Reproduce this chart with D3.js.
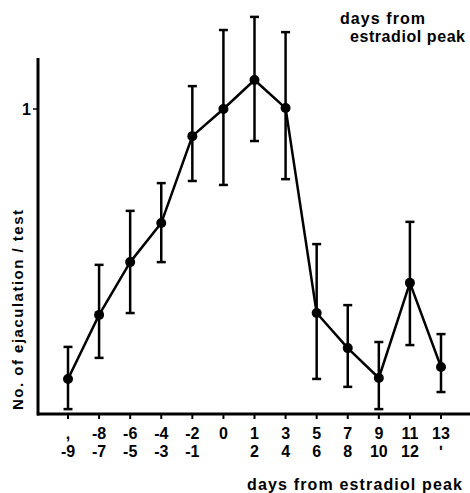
<!DOCTYPE html>
<html><head><meta charset="utf-8">
<script src="https://cdn.jsdelivr.net/npm/d3@7/dist/d3.min.js"></script>
<style>body{margin:0;background:#fff}svg{display:block}text{font-family:"Liberation Sans",Arial,sans-serif;font-weight:bold;fill:#000}</style>
</head><body>
<script>
const categories = ["-9","-8/-7","-6/-5","-4/-3","-2/-1","0","1/2","3/4","5/6","7/8","9/10","11/12","13"];
const topLabels = [",","-8","-6","-4","-2","0","1","3","5","7","9","11","13"];
const bottomLabels = ["-9","-7","-5","-3","-1","","2","4","6","8","10","12","\u02b9"];
const means = [0.115,0.325,0.498,0.626,0.911,1.0,1.095,1.003,0.331,0.216,0.118,0.430,0.154];
const upper = [0.220,0.489,0.666,0.757,1.075,1.259,1.302,1.252,0.557,0.357,0.236,0.630,0.262];
const lower = [0.016,0.184,0.331,0.498,0.764,0.751,0.895,0.770,0.115,0.089,0.016,0.226,0.072];
const yTicks = [1];

const W = 470, H = 493;
const svg = d3.select("body").append("svg").attr("width", W).attr("height", H);

const x = d3.scalePoint().domain(categories).range([68, 441]);
const y = d3.scaleLinear().domain([0, 1]).range([414, 109]);
const yTop = 1.167;

// axes
svg.append("line").attr("x1", 38).attr("x2", 38).attr("y1", y(yTop)).attr("y2", y(0) + 1.5)
  .attr("stroke", "#000").attr("stroke-width", 3);
svg.append("line").attr("x1", 37).attr("x2", 470).attr("y1", y(0)).attr("y2", y(0))
  .attr("stroke", "#000").attr("stroke-width", 3);

// y ticks
yTicks.forEach(t => {
  svg.append("line").attr("x1", 33).attr("x2", 38).attr("y1", y(t)).attr("y2", y(t))
    .attr("stroke", "#000").attr("stroke-width", 1.5);
  svg.append("text").attr("x", 31).attr("y", y(t) + 6).attr("text-anchor", "end")
    .attr("font-size", 16).text(t);
});

// x ticks and labels
categories.forEach((c, i) => {
  const cx = x(c);
  svg.append("line").attr("x1", cx).attr("x2", cx).attr("y1", y(0)).attr("y2", y(0) + 5)
    .attr("stroke", "#000").attr("stroke-width", 2);
  svg.append("text").attr("x", cx).attr("y", 439).attr("text-anchor", "middle")
    .attr("font-size", 16).text(topLabels[i]);
  svg.append("text").attr("x", cx).attr("y", 457).attr("text-anchor", "middle")
    .attr("font-size", 16).text(bottomLabels[i]);
});

// error bars
const cap = 4.5;
categories.forEach((c, i) => {
  const cx = x(c);
  svg.append("line").attr("x1", cx).attr("x2", cx).attr("y1", y(upper[i])).attr("y2", y(lower[i]))
    .attr("stroke", "#000").attr("stroke-width", 2.5);
  [upper[i], lower[i]].forEach(v => {
    svg.append("line").attr("x1", cx - cap).attr("x2", cx + cap).attr("y1", y(v)).attr("y2", y(v))
      .attr("stroke", "#000").attr("stroke-width", 2.5);
  });
});

// line
const line = d3.line().x((d, i) => x(categories[i])).y(d => y(d));
svg.append("path").datum(means).attr("d", line).attr("fill", "none")
  .attr("stroke", "#000").attr("stroke-width", 2.5).attr("stroke-linejoin", "round");

// points
svg.selectAll("circle.pt").data(means).enter().append("circle")
  .attr("cx", (d, i) => x(categories[i])).attr("cy", d => y(d)).attr("r", 5).attr("fill", "#000");

// y label
svg.append("text").attr("transform", "translate(23,310) rotate(-90)").attr("text-anchor", "middle")
  .attr("font-size", 15).attr("textLength", 200).attr("lengthAdjust", "spacing")
  .text("No. of ejaculation / test");

// x title
svg.append("text").attr("x", 247).attr("y", 490)
  .attr("font-size", 16).attr("textLength", 215).attr("lengthAdjust", "spacing")
  .text("days from estradiol peak");

// top-right annotation
svg.append("text").attr("x", 340).attr("y", 24).attr("font-size", 16)
  .attr("textLength", 85).attr("lengthAdjust", "spacing").text("days from");
svg.append("text").attr("x", 350).attr("y", 42).attr("font-size", 16)
  .attr("textLength", 115).attr("lengthAdjust", "spacing").text("estradiol peak");
</script>
</body></html>
